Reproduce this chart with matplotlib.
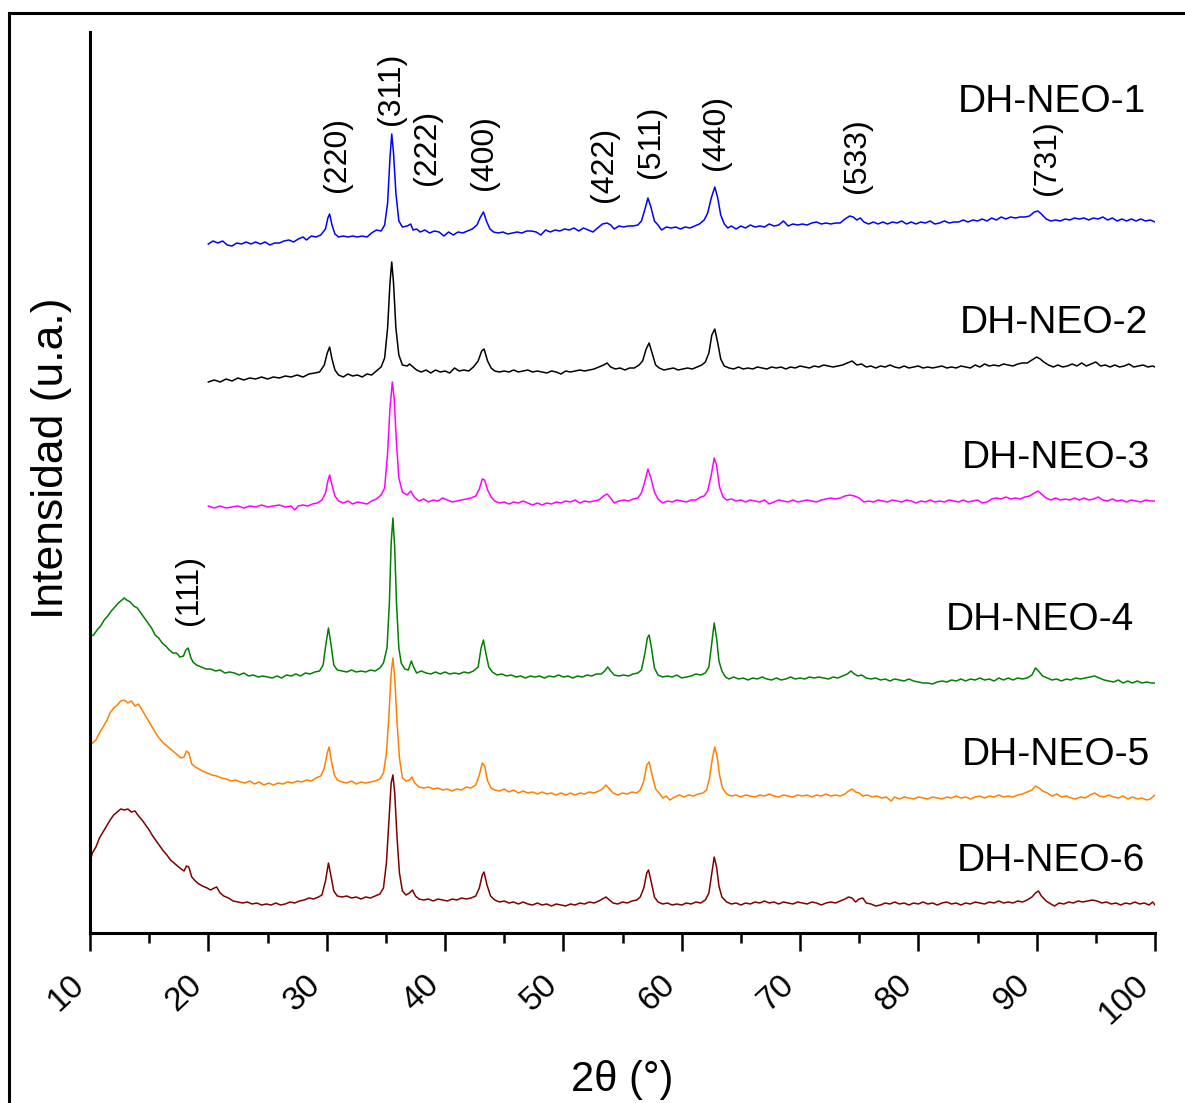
import matplotlib
matplotlib.use('Agg')
import matplotlib.pyplot as plt
from matplotlib.lines import Line2D

plt.rcParams['font.family'] = ['Liberation Sans', 'DejaVu Sans']

# difractogramas apilados: pares (2theta en grados, intensidad en u.a. ya desplazada)
neo1 = [(20.0, 689), (20.4, 692), (20.8, 690), (21.2, 692), (21.6, 688), (22.0, 687), (22.4, 690), (22.8, 689),
        (23.2, 691), (23.6, 689), (24.0, 691), (24.4, 689), (24.8, 691), (25.2, 688), (25.6, 690), (26.0, 690),
        (26.4, 692), (26.8, 693), (27.2, 691), (27.6, 694), (28.0, 696), (28.3, 693), (28.7, 697), (29.1, 696),
        (29.5, 698), (29.9, 704), (30.1, 715), (30.25, 719), (30.45, 708), (30.7, 699), (31.0, 696), (31.4, 697),
        (31.8, 696), (32.2, 697), (32.6, 696), (33.0, 697), (33.4, 696), (33.8, 700), (34.2, 703), (34.6, 702),
        (34.9, 708), (35.15, 730), (35.35, 775), (35.5, 799), (35.65, 780), (35.85, 740), (36.1, 712), (36.4, 706),
        (36.8, 707), (37.1, 709), (37.3, 703), (37.6, 704), (37.9, 701), (38.3, 703), (38.7, 700), (39.1, 702),
        (39.5, 701), (39.9, 697), (40.3, 701), (40.7, 698), (41.1, 701), (41.5, 700), (41.9, 702), (42.3, 704),
        (42.7, 708), (43.0, 716), (43.25, 721), (43.5, 712), (43.8, 704), (44.1, 701), (44.5, 700), (44.9, 701),
        (45.3, 699), (45.7, 700), (46.1, 701), (46.5, 700), (46.9, 702), (47.3, 702), (47.7, 701), (48.1, 698),
        (48.5, 703), (48.9, 701), (49.3, 703), (49.7, 702), (50.1, 704), (50.5, 703), (50.9, 705), (51.3, 702),
        (51.7, 705), (52.1, 703), (52.5, 701), (52.9, 705), (53.3, 709), (53.7, 710), (54.0, 708), (54.3, 704),
        (54.7, 707), (55.1, 706), (55.5, 707), (55.9, 707), (56.3, 708), (56.6, 712), (56.9, 724), (57.15, 735),
        (57.4, 726), (57.7, 712), (58.0, 708), (58.3, 703), (58.7, 706), (59.1, 705), (59.5, 706), (59.9, 704),
        (60.3, 706), (60.7, 705), (61.1, 707), (61.5, 709), (61.9, 713), (62.2, 720), (62.5, 735), (62.8, 746),
        (63.05, 735), (63.3, 718), (63.6, 709), (63.9, 705), (64.2, 707), (64.6, 704), (65.0, 707), (65.4, 705),
        (65.8, 708), (66.2, 706), (66.6, 707), (67.0, 706), (67.4, 709), (67.8, 707), (68.2, 708), (68.6, 712),
        (69.0, 707), (69.4, 709), (69.8, 708), (70.2, 709), (70.6, 708), (71.0, 710), (71.4, 711), (71.8, 709),
        (72.2, 710), (72.6, 709), (73.0, 710), (73.4, 710), (73.8, 714), (74.2, 717), (74.5, 716), (74.8, 713),
        (75.1, 715), (75.4, 711), (75.8, 709), (76.2, 711), (76.6, 709), (77.0, 711), (77.4, 709), (77.8, 711),
        (78.2, 710), (78.6, 712), (79.0, 709), (79.4, 711), (79.8, 709), (80.2, 711), (80.6, 710), (81.0, 712),
        (81.4, 709), (81.8, 710), (82.2, 712), (82.6, 710), (83.0, 711), (83.4, 711), (83.8, 713), (84.2, 711),
        (84.6, 713), (85.0, 712), (85.4, 714), (85.8, 712), (86.2, 715), (86.6, 713), (87.0, 716), (87.4, 714),
        (87.8, 716), (88.2, 715), (88.6, 716), (89.0, 716), (89.4, 717), (89.8, 721), (90.1, 722), (90.4, 719),
        (90.8, 714), (91.2, 712), (91.6, 713), (92.0, 712), (92.4, 714), (92.8, 713), (93.2, 715), (93.6, 714),
        (94.0, 715), (94.4, 713), (94.8, 715), (95.2, 714), (95.6, 716), (96.0, 713), (96.4, 715), (96.8, 712),
        (97.2, 714), (97.6, 712), (98.0, 714), (98.4, 712), (98.8, 714), (99.2, 712), (99.6, 713), (100.0, 711)]

neo2 = [(20.0, 551), (20.5, 553), (21.0, 551), (21.5, 554), (22.0, 552), (22.5, 555), (23.0, 553), (23.5, 555),
        (24.0, 554), (24.5, 556), (25.0, 554), (25.5, 556), (26.0, 555), (26.5, 557), (27.0, 556), (27.5, 558),
        (28.0, 556), (28.5, 559), (29.0, 560), (29.4, 561), (29.8, 568), (30.05, 580), (30.25, 586), (30.45, 574),
        (30.7, 563), (31.0, 558), (31.4, 556), (31.8, 559), (32.2, 557), (32.6, 558), (33.0, 556), (33.4, 559),
        (33.8, 558), (34.2, 562), (34.6, 566), (34.9, 575), (35.15, 605), (35.35, 650), (35.5, 671), (35.65, 650),
        (35.85, 605), (36.1, 578), (36.4, 568), (36.8, 567), (37.0, 569), (37.3, 566), (37.6, 563), (38.0, 561),
        (38.4, 563), (38.8, 560), (39.2, 563), (39.6, 561), (40.0, 562), (40.4, 560), (40.8, 565), (41.2, 562),
        (41.6, 563), (42.0, 562), (42.4, 566), (42.8, 572), (43.1, 582), (43.3, 584), (43.6, 572), (43.9, 565),
        (44.2, 562), (44.6, 561), (45.0, 562), (45.4, 561), (45.8, 563), (46.2, 561), (46.6, 562), (47.0, 563),
        (47.4, 561), (47.8, 562), (48.2, 561), (48.6, 560), (49.0, 562), (49.4, 561), (49.8, 559), (50.2, 562),
        (50.6, 561), (51.0, 562), (51.4, 563), (51.8, 562), (52.2, 563), (52.6, 564), (53.0, 566), (53.4, 568),
        (53.7, 570), (54.0, 566), (54.4, 564), (54.8, 565), (55.2, 563), (55.6, 565), (56.0, 565), (56.4, 568),
        (56.7, 572), (57.0, 584), (57.25, 590), (57.5, 580), (57.8, 568), (58.1, 565), (58.5, 563), (58.9, 564),
        (59.3, 565), (59.7, 563), (60.1, 564), (60.5, 565), (60.9, 564), (61.3, 566), (61.7, 568), (62.0, 571),
        (62.3, 580), (62.55, 598), (62.8, 604), (63.05, 590), (63.3, 574), (63.6, 567), (64.0, 565), (64.4, 564),
        (64.8, 566), (65.2, 564), (65.6, 565), (66.0, 564), (66.4, 566), (66.8, 565), (67.2, 564), (67.6, 566),
        (68.0, 565), (68.4, 566), (68.8, 564), (69.2, 566), (69.6, 565), (70.0, 567), (70.4, 566), (70.8, 565),
        (71.2, 567), (71.6, 566), (72.0, 568), (72.4, 567), (72.8, 566), (73.2, 567), (73.6, 568), (74.0, 570),
        (74.4, 572), (74.8, 568), (75.2, 569), (75.6, 566), (76.0, 567), (76.4, 565), (76.8, 567), (77.2, 566),
        (77.6, 568), (78.0, 566), (78.4, 565), (78.8, 567), (79.2, 565), (79.6, 566), (80.0, 567), (80.4, 565),
        (80.8, 566), (81.2, 565), (81.6, 566), (82.0, 567), (82.4, 565), (82.8, 566), (83.2, 565), (83.6, 567),
        (84.0, 566), (84.4, 565), (84.8, 568), (85.2, 566), (85.6, 569), (86.0, 567), (86.4, 568), (86.8, 567),
        (87.2, 569), (87.6, 568), (88.0, 567), (88.4, 569), (88.8, 570), (89.2, 570), (89.6, 573), (90.0, 576),
        (90.3, 574), (90.6, 571), (91.0, 568), (91.4, 566), (91.8, 568), (92.2, 566), (92.6, 567), (93.0, 569),
        (93.4, 567), (93.8, 570), (94.2, 567), (94.6, 569), (95.0, 571), (95.4, 567), (95.8, 568), (96.2, 566),
        (96.6, 568), (97.0, 566), (97.4, 567), (97.8, 569), (98.2, 566), (98.6, 567), (99.0, 568), (99.4, 566),
        (99.8, 567), (100.0, 566)]

neo3 = [(20.0, 427), (20.5, 425), (21.0, 427), (21.5, 425), (22.0, 426), (22.5, 427), (23.0, 425), (23.5, 427),
        (24.0, 426), (24.5, 428), (25.0, 426), (25.5, 427), (26.0, 428), (26.5, 426), (27.0, 427), (27.3, 423),
        (27.6, 427), (28.0, 428), (28.4, 427), (28.8, 429), (29.2, 430), (29.6, 433), (29.9, 440), (30.1, 452),
        (30.25, 458), (30.45, 448), (30.7, 437), (31.0, 432), (31.4, 430), (31.8, 432), (32.2, 429), (32.6, 431),
        (33.0, 430), (33.4, 429), (33.8, 432), (34.2, 434), (34.6, 438), (34.9, 445), (35.15, 480), (35.35, 525),
        (35.55, 551), (35.7, 535), (35.9, 490), (36.1, 455), (36.4, 441), (36.8, 438), (37.1, 442), (37.4, 436),
        (37.8, 432), (38.2, 434), (38.6, 431), (39.0, 433), (39.4, 432), (39.8, 435), (40.2, 433), (40.6, 431),
        (41.0, 432), (41.4, 433), (41.8, 434), (42.2, 435), (42.6, 437), (42.9, 444), (43.15, 454), (43.35, 453),
        (43.6, 443), (43.9, 436), (44.2, 432), (44.6, 430), (45.0, 431), (45.4, 429), (45.8, 431), (46.2, 430),
        (46.6, 432), (47.0, 430), (47.4, 428), (47.8, 430), (48.2, 428), (48.6, 430), (49.0, 429), (49.4, 431),
        (49.8, 430), (50.2, 432), (50.6, 431), (51.0, 433), (51.4, 430), (51.8, 432), (52.2, 431), (52.6, 432),
        (53.0, 433), (53.4, 437), (53.7, 439), (54.0, 435), (54.3, 430), (54.7, 432), (55.1, 433), (55.5, 432),
        (55.9, 434), (56.3, 435), (56.6, 440), (56.9, 452), (57.15, 464), (57.4, 455), (57.7, 441), (58.0, 434),
        (58.4, 430), (58.8, 432), (59.2, 431), (59.6, 433), (60.0, 432), (60.4, 431), (60.8, 433), (61.2, 433),
        (61.6, 436), (61.9, 437), (62.2, 442), (62.5, 458), (62.75, 475), (62.95, 468), (63.2, 446), (63.5, 436),
        (63.8, 433), (64.2, 434), (64.6, 432), (65.0, 433), (65.4, 431), (65.8, 433), (66.2, 432), (66.6, 431),
        (67.0, 433), (67.4, 429), (67.8, 431), (68.2, 433), (68.6, 432), (69.0, 431), (69.4, 433), (69.8, 431),
        (70.2, 432), (70.6, 433), (71.0, 432), (71.4, 431), (71.8, 433), (72.2, 434), (72.6, 435), (73.0, 434),
        (73.4, 435), (73.8, 437), (74.2, 438), (74.6, 437), (75.0, 435), (75.4, 431), (75.8, 432), (76.2, 431),
        (76.6, 433), (77.0, 432), (77.4, 431), (77.8, 433), (78.2, 432), (78.6, 431), (79.0, 433), (79.4, 432),
        (79.8, 430), (80.2, 432), (80.6, 431), (81.0, 433), (81.4, 431), (81.8, 432), (82.2, 431), (82.6, 433),
        (83.0, 432), (83.4, 431), (83.8, 433), (84.2, 431), (84.6, 432), (85.0, 433), (85.4, 430), (85.8, 431),
        (86.2, 434), (86.6, 435), (87.0, 434), (87.4, 436), (87.8, 434), (88.2, 435), (88.6, 434), (89.0, 436),
        (89.4, 437), (89.8, 440), (90.1, 442), (90.4, 439), (90.8, 435), (91.2, 433), (91.6, 435), (92.0, 433),
        (92.4, 434), (92.8, 433), (93.2, 435), (93.6, 433), (94.0, 435), (94.4, 433), (94.8, 434), (95.2, 436),
        (95.6, 433), (96.0, 432), (96.4, 434), (96.8, 432), (97.2, 433), (97.6, 431), (98.0, 433), (98.4, 432),
        (98.8, 431), (99.2, 433), (99.6, 432), (100.0, 432)]

neo4 = [(10.0, 297), (10.3, 298), (10.6, 303), (10.9, 307), (11.2, 313), (11.5, 317), (11.8, 322), (12.1, 326),
        (12.4, 330), (12.7, 333), (12.9, 335), (13.1, 333), (13.4, 331), (13.7, 327), (14.0, 325), (14.3, 320),
        (14.6, 315), (14.9, 310), (15.2, 305), (15.5, 298), (15.8, 295), (16.1, 290), (16.4, 287), (16.7, 283),
        (17.0, 280), (17.3, 280), (17.6, 276), (17.9, 277), (18.1, 283), (18.3, 285), (18.5, 276), (18.7, 271),
        (19.0, 268), (19.4, 266), (19.8, 264), (20.2, 264), (20.6, 262), (21.0, 263), (21.4, 260), (21.8, 261),
        (22.2, 260), (22.6, 258), (23.0, 260), (23.4, 257), (23.8, 258), (24.2, 256), (24.6, 257), (25.0, 256),
        (25.4, 255), (25.8, 257), (26.2, 255), (26.6, 258), (27.0, 257), (27.4, 259), (27.8, 257), (28.2, 260),
        (28.6, 259), (29.0, 261), (29.4, 262), (29.7, 268), (29.95, 290), (30.15, 305), (30.35, 290), (30.6, 268),
        (30.9, 263), (31.3, 262), (31.7, 261), (32.1, 263), (32.5, 261), (32.9, 262), (33.3, 261), (33.7, 263),
        (34.1, 262), (34.5, 265), (34.8, 270), (35.1, 285), (35.3, 330), (35.45, 390), (35.6, 415), (35.75, 385),
        (35.9, 330), (36.1, 285), (36.3, 270), (36.6, 264), (36.9, 263), (37.15, 272), (37.35, 266), (37.6, 260),
        (38.0, 262), (38.4, 260), (38.8, 259), (39.2, 261), (39.6, 259), (40.0, 261), (40.4, 259), (40.8, 260),
        (41.2, 259), (41.6, 261), (42.0, 260), (42.4, 262), (42.8, 266), (43.05, 285), (43.25, 293), (43.45, 280),
        (43.7, 266), (44.0, 261), (44.4, 258), (44.8, 259), (45.2, 257), (45.6, 258), (46.0, 256), (46.4, 257),
        (46.8, 255), (47.2, 257), (47.6, 256), (48.0, 257), (48.4, 255), (48.8, 257), (49.2, 256), (49.6, 258),
        (50.0, 256), (50.4, 257), (50.8, 255), (51.2, 257), (51.6, 256), (52.0, 258), (52.4, 257), (52.8, 259),
        (53.2, 259), (53.5, 262), (53.75, 266), (54.0, 262), (54.3, 258), (54.7, 257), (55.1, 258), (55.5, 257),
        (55.9, 259), (56.3, 260), (56.6, 263), (56.9, 280), (57.1, 295), (57.25, 298), (57.45, 285), (57.7, 265),
        (58.0, 258), (58.4, 256), (58.8, 257), (59.2, 256), (59.6, 258), (60.0, 255), (60.4, 256), (60.8, 257),
        (61.2, 259), (61.6, 258), (62.0, 260), (62.3, 266), (62.55, 290), (62.75, 310), (62.95, 295), (63.15, 272),
        (63.4, 262), (63.7, 256), (64.0, 254), (64.4, 256), (64.8, 254), (65.2, 255), (65.6, 253), (66.0, 255),
        (66.4, 254), (66.8, 256), (67.2, 254), (67.6, 253), (68.0, 255), (68.4, 253), (68.8, 254), (69.2, 256),
        (69.6, 254), (70.0, 255), (70.4, 254), (70.8, 256), (71.2, 255), (71.6, 256), (72.0, 255), (72.4, 254),
        (72.8, 256), (73.2, 255), (73.6, 257), (74.0, 259), (74.3, 262), (74.6, 259), (74.9, 257), (75.2, 258),
        (75.6, 255), (76.0, 254), (76.4, 255), (76.8, 253), (77.2, 254), (77.6, 252), (78.0, 254), (78.4, 253),
        (78.8, 252), (79.2, 254), (79.6, 252), (80.0, 251), (80.4, 250), (80.8, 250), (81.2, 249), (81.6, 251),
        (82.0, 252), (82.4, 251), (82.8, 253), (83.2, 252), (83.6, 254), (84.0, 252), (84.4, 254), (84.8, 253),
        (85.2, 255), (85.6, 253), (86.0, 254), (86.4, 252), (86.8, 255), (87.2, 253), (87.6, 255), (88.0, 253),
        (88.4, 255), (88.8, 254), (89.2, 255), (89.6, 258), (89.9, 265), (90.15, 262), (90.5, 257), (90.9, 255),
        (91.3, 253), (91.7, 254), (92.1, 252), (92.5, 254), (92.9, 253), (93.3, 255), (93.7, 254), (94.1, 255),
        (94.5, 256), (94.9, 257), (95.3, 255), (95.7, 253), (96.1, 252), (96.5, 251), (96.9, 253), (97.3, 250),
        (97.7, 252), (98.1, 250), (98.5, 252), (98.9, 250), (99.3, 251), (99.7, 250), (100.0, 250)]

neo5 = [(10.0, 188), (10.2, 190), (10.5, 193), (10.8, 200), (11.1, 206), (11.4, 212), (11.7, 220), (12.0, 225),
        (12.3, 228), (12.6, 232), (12.9, 233), (13.2, 230), (13.5, 232), (13.8, 227), (14.1, 229), (14.4, 223),
        (14.7, 217), (15.0, 211), (15.3, 205), (15.6, 199), (15.9, 194), (16.2, 190), (16.5, 187), (16.8, 184),
        (17.1, 181), (17.4, 178), (17.7, 175), (17.95, 176), (18.15, 182), (18.35, 180), (18.6, 169), (18.9, 166),
        (19.2, 164), (19.5, 162), (19.9, 160), (20.3, 158), (20.7, 157), (21.1, 155), (21.5, 154), (21.9, 152),
        (22.3, 153), (22.7, 151), (23.1, 150), (23.5, 152), (23.9, 149), (24.3, 151), (24.7, 148), (25.1, 150),
        (25.5, 148), (25.9, 150), (26.3, 149), (26.7, 151), (27.1, 150), (27.5, 152), (27.9, 151), (28.3, 153),
        (28.7, 152), (29.1, 155), (29.5, 157), (29.8, 165), (30.05, 180), (30.2, 186), (30.4, 172), (30.65, 158),
        (30.9, 153), (31.3, 151), (31.7, 150), (32.1, 152), (32.5, 149), (32.9, 151), (33.3, 150), (33.7, 151),
        (34.1, 152), (34.5, 154), (34.8, 160), (35.05, 180), (35.25, 215), (35.45, 260), (35.6, 275), (35.75, 255),
        (35.95, 210), (36.15, 175), (36.4, 155), (36.7, 152), (37.0, 153), (37.2, 156), (37.45, 150), (37.8, 146),
        (38.2, 145), (38.6, 146), (39.0, 144), (39.4, 145), (39.8, 143), (40.2, 144), (40.6, 142), (41.0, 144),
        (41.4, 143), (41.8, 146), (42.2, 145), (42.6, 148), (42.9, 158), (43.15, 170), (43.35, 167), (43.6, 152),
        (43.9, 145), (44.2, 143), (44.6, 142), (45.0, 144), (45.4, 141), (45.8, 143), (46.2, 140), (46.6, 142),
        (47.0, 140), (47.4, 141), (47.8, 139), (48.2, 141), (48.6, 139), (49.0, 140), (49.4, 138), (49.8, 140),
        (50.2, 138), (50.6, 140), (51.0, 138), (51.4, 140), (51.8, 139), (52.2, 141), (52.6, 140), (53.0, 142),
        (53.3, 144), (53.6, 148), (53.9, 144), (54.2, 140), (54.6, 138), (55.0, 140), (55.4, 139), (55.8, 141),
        (56.2, 140), (56.5, 143), (56.8, 152), (57.05, 168), (57.25, 171), (57.5, 158), (57.8, 144), (58.1, 140),
        (58.4, 135), (58.7, 137), (59.0, 133), (59.4, 136), (59.8, 138), (60.2, 136), (60.6, 138), (61.0, 137),
        (61.4, 139), (61.8, 140), (62.1, 143), (62.35, 155), (62.6, 175), (62.8, 186), (63.0, 176), (63.2, 158),
        (63.45, 145), (63.8, 139), (64.2, 137), (64.6, 138), (65.0, 136), (65.4, 138), (65.8, 137), (66.2, 136),
        (66.6, 138), (67.0, 137), (67.4, 139), (67.8, 137), (68.2, 136), (68.6, 138), (69.0, 137), (69.4, 136),
        (69.8, 138), (70.2, 137), (70.6, 138), (71.0, 136), (71.4, 138), (71.8, 137), (72.2, 139), (72.6, 137),
        (73.0, 138), (73.4, 137), (73.8, 139), (74.1, 142), (74.4, 144), (74.7, 141), (75.0, 140), (75.3, 137),
        (75.7, 138), (76.1, 136), (76.5, 137), (76.9, 135), (77.3, 136), (77.7, 132), (78.0, 136), (78.4, 134),
        (78.8, 136), (79.2, 135), (79.6, 134), (80.0, 136), (80.4, 135), (80.8, 134), (81.2, 136), (81.6, 135),
        (82.0, 134), (82.4, 136), (82.8, 135), (83.2, 137), (83.6, 135), (84.0, 136), (84.4, 134), (84.8, 136),
        (85.2, 137), (85.6, 135), (86.0, 137), (86.4, 136), (86.8, 138), (87.2, 136), (87.6, 137), (88.0, 136),
        (88.4, 138), (88.8, 139), (89.2, 141), (89.6, 143), (89.9, 147), (90.2, 145), (90.5, 142), (90.9, 140),
        (91.3, 137), (91.7, 139), (92.1, 136), (92.5, 137), (92.9, 135), (93.3, 134), (93.7, 136), (94.1, 135),
        (94.5, 138), (94.9, 140), (95.3, 137), (95.7, 136), (96.1, 138), (96.5, 136), (96.9, 135), (97.3, 137),
        (97.7, 134), (98.1, 136), (98.5, 134), (98.9, 135), (99.3, 133), (99.6, 134), (100.0, 138)]

neo6 = [(10.0, 71), (10.2, 80), (10.5, 86), (10.8, 95), (11.1, 101), (11.4, 107), (11.7, 113), (12.0, 118),
        (12.3, 121), (12.6, 124), (12.9, 123), (13.2, 124), (13.5, 121), (13.8, 122), (14.1, 117), (14.4, 113),
        (14.7, 108), (15.0, 103), (15.3, 97), (15.6, 92), (15.9, 87), (16.2, 82), (16.5, 78), (16.8, 73),
        (17.1, 70), (17.4, 67), (17.7, 64), (17.95, 62), (18.15, 67), (18.35, 66), (18.6, 56), (18.9, 52),
        (19.2, 49), (19.5, 47), (19.9, 45), (20.2, 43), (20.5, 45), (20.7, 46), (21.0, 40), (21.3, 37),
        (21.7, 35), (22.1, 32), (22.5, 31), (22.9, 30), (23.3, 31), (23.7, 29), (24.1, 30), (24.5, 28),
        (24.9, 29), (25.3, 28), (25.7, 30), (26.1, 28), (26.5, 29), (26.9, 31), (27.3, 30), (27.7, 32),
        (28.1, 33), (28.5, 35), (28.9, 34), (29.3, 36), (29.6, 38), (29.9, 52), (30.15, 70), (30.35, 58),
        (30.6, 42), (30.9, 37), (31.3, 36), (31.7, 37), (32.1, 35), (32.5, 36), (32.9, 34), (33.3, 36),
        (33.7, 35), (34.1, 37), (34.5, 39), (34.8, 45), (35.05, 70), (35.25, 110), (35.45, 150), (35.6, 158),
        (35.75, 140), (35.95, 95), (36.15, 60), (36.4, 42), (36.7, 38), (37.0, 40), (37.25, 43), (37.5, 37),
        (37.8, 34), (38.2, 33), (38.6, 34), (39.0, 32), (39.4, 34), (39.8, 33), (40.2, 32), (40.6, 34),
        (41.0, 33), (41.4, 35), (41.8, 34), (42.2, 35), (42.6, 37), (42.9, 45), (43.15, 58), (43.3, 61),
        (43.55, 48), (43.85, 37), (44.2, 33), (44.6, 31), (45.0, 32), (45.4, 30), (45.8, 31), (46.2, 29),
        (46.6, 31), (47.0, 29), (47.4, 28), (47.8, 30), (48.2, 28), (48.6, 29), (49.0, 27), (49.4, 29),
        (49.8, 28), (50.2, 27), (50.6, 29), (51.0, 28), (51.4, 30), (51.8, 29), (52.2, 31), (52.6, 30),
        (53.0, 32), (53.3, 34), (53.6, 36), (53.9, 33), (54.2, 30), (54.6, 29), (55.0, 31), (55.4, 30),
        (55.8, 32), (56.2, 33), (56.5, 36), (56.8, 45), (57.05, 60), (57.2, 63), (57.45, 50), (57.7, 36),
        (58.0, 31), (58.4, 29), (58.8, 30), (59.2, 28), (59.6, 29), (60.0, 28), (60.4, 30), (60.8, 29),
        (61.2, 31), (61.6, 30), (62.0, 33), (62.3, 40), (62.55, 60), (62.75, 76), (62.95, 66), (63.15, 47),
        (63.4, 36), (63.8, 31), (64.2, 29), (64.6, 30), (65.0, 28), (65.4, 30), (65.8, 29), (66.2, 31),
        (66.6, 30), (67.0, 32), (67.4, 30), (67.8, 31), (68.2, 29), (68.6, 31), (69.0, 30), (69.4, 29),
        (69.8, 31), (70.2, 30), (70.6, 29), (71.0, 31), (71.4, 30), (71.8, 28), (72.2, 30), (72.6, 31),
        (73.0, 30), (73.4, 32), (73.8, 34), (74.1, 36), (74.4, 35), (74.7, 31), (75.0, 34), (75.3, 35),
        (75.6, 30), (76.0, 29), (76.4, 27), (76.8, 28), (77.2, 30), (77.6, 29), (78.0, 31), (78.4, 29),
        (78.8, 30), (79.2, 28), (79.6, 30), (80.0, 29), (80.4, 31), (80.8, 29), (81.2, 30), (81.6, 28),
        (82.0, 30), (82.4, 31), (82.8, 29), (83.2, 30), (83.6, 28), (84.0, 30), (84.4, 29), (84.8, 31),
        (85.2, 30), (85.6, 29), (86.0, 31), (86.4, 30), (86.8, 32), (87.2, 30), (87.6, 31), (88.0, 30),
        (88.4, 32), (88.8, 31), (89.2, 33), (89.6, 36), (89.9, 40), (90.15, 42), (90.4, 37), (90.8, 32),
        (91.2, 29), (91.5, 27), (91.9, 30), (92.3, 29), (92.7, 31), (93.1, 30), (93.5, 32), (93.9, 31),
        (94.3, 32), (94.7, 33), (95.1, 32), (95.5, 30), (95.9, 31), (96.3, 29), (96.7, 30), (97.1, 28),
        (97.5, 30), (97.9, 29), (98.3, 31), (98.7, 29), (99.1, 30), (99.5, 28), (99.8, 31), (100.0, 28)]

muestras = ['DH-NEO-1', 'DH-NEO-2', 'DH-NEO-3', 'DH-NEO-4', 'DH-NEO-5', 'DH-NEO-6']
datos = [neo1, neo2, neo3, neo4, neo5, neo6]
colores = ['#0000ff', '#000000', '#ff00ff', '#008000', '#ff8000', '#800000']
# posicion de cada nombre (2theta, u.a.)
nombre_x = [91.3, 91.5, 91.6, 90.3, 91.6, 91.2]
nombre_y = [821, 600, 465, 303, 168, 62]

# indices de Miller
planos = ['(220)', '(311)', '(222)', '(400)', '(422)', '(511)', '(440)', '(533)', '(731)', '(111)']
planos_x = [30.9, 35.4, 38.5, 43.3, 53.4, 57.4, 62.9, 74.8, 90.9, 18.4]
planos_y = [741, 808, 748, 743, 731, 755, 763, 740, 738, 308]

fig = plt.figure(figsize=(11.85, 11.03), dpi=100)
ax = fig.add_axes([90/1185, 1 - 933/1103, 1065/1185, 901/1103])

for d, color in zip(datos, colores):
    tt = [p[0] for p in d]
    inten = [p[1] for p in d]
    ax.plot(tt, inten, color=color, lw=1.1)

for nombre, tx, ty in zip(muestras, nombre_x, nombre_y):
    ax.text(tx, ty, nombre, fontsize=28, ha='center', va='baseline')

for p, px, py in zip(planos, planos_x, planos_y):
    ax.text(px, py, p, fontsize=23, rotation=90, ha='center', va='bottom')

ax.set_xlim(10, 100)
ax.set_ylim(0, 901)
ax.set_xticks(range(10, 101, 10))
ax.set_xticks(range(15, 100, 10), minor=True)
ax.set_yticks([])
for lado in ['top', 'right']:
    ax.spines[lado].set_visible(False)
for lado in ['left', 'bottom']:
    ax.spines[lado].set_linewidth(2.2)
ax.tick_params(axis='x', which='major', direction='out', length=13, width=1.8, pad=13, labelsize=24)
ax.tick_params(axis='x', which='minor', direction='out', length=7, width=1.8)
for lbl in ax.get_xticklabels():
    lbl.set_rotation(43)
    lbl.set_ha('right')

fig.text(52/1185, 1 - 458/1103, 'Intensidad (u.a.)', fontsize=32, rotation=90, ha='center', va='center')
fig.text(622/1185, 1 - 1080/1103, '2θ (°)', fontsize=30, ha='center', va='center')

# marco exterior
fig.add_artist(Line2D([9/1185, 9/1185], [0, 1 - 13/1103], transform=fig.transFigure, color='k', lw=2.2))
fig.add_artist(Line2D([9/1185, 1], [1 - 13/1103, 1 - 13/1103], transform=fig.transFigure, color='k', lw=2.2))

fig.savefig('out.png', dpi=100)
